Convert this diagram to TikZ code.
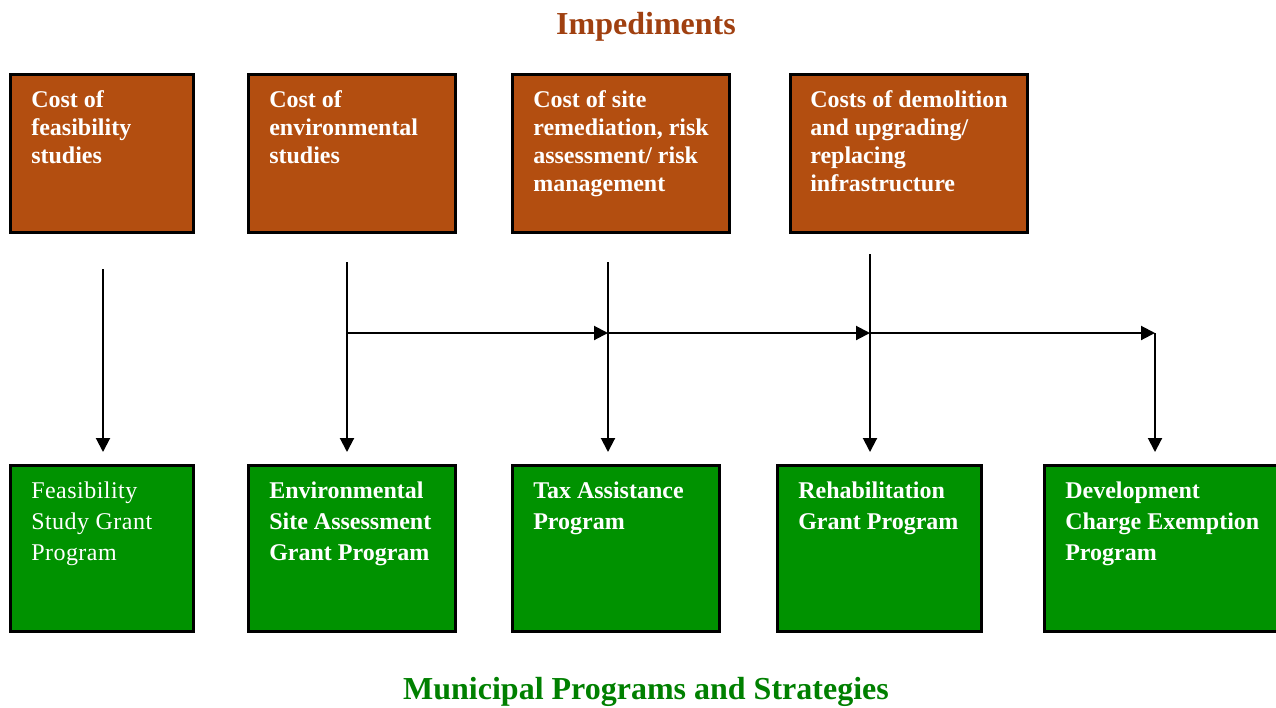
\documentclass[tikz,border=0pt]{standalone}
\usepackage{fontspec}
\setmainfont{Liberation Serif}
\newfontfamily\spacedfont[LetterSpace=2]{Liberation Serif}
\usetikzlibrary{positioning,arrows.meta}
\definecolor{impbrown}{RGB}{179,78,16}
\definecolor{imptitle}{RGB}{160,64,16}
\definecolor{proggreen}{RGB}{0,146,0}
\definecolor{progtitle}{RGB}{0,128,0}
\begin{document}
\begin{tikzpicture}[x=0.75pt, y=-0.75pt, >={Triangle[length=10.5pt,width=10.5pt]},
  box/.style={draw=black, line width=2pt, anchor=north west, minimum height=#1},
  imp/.style={box=118.75pt, fill=impbrown},
  prog/.style={box=124.75pt, fill=proggreen},
  txt/.style={anchor=north west, inner sep=0pt, text=white, align=left,
    font=\fontsize{18pt}{21pt}\selectfont\bfseries},
  ptxt/.style={txt, font=\fontsize{18pt}{23.25pt}\selectfont\bfseries},
  ttl/.style={anchor=base, font=\fontsize{24pt}{28pt}\selectfont\bfseries},
  link/.style={->, line width=1.5pt}]
  \useasboundingbox (0,0) rectangle (1276,707);
  % titles
  \node[ttl, text=imptitle] (ttop) at (646,34) {Impediments};
  \node[ttl, text=progtitle] (tbot) at (646,699) {Municipal Programs and Strategies};
  % impediments
  \node[imp, minimum width=137.5pt] (i1) at (9,73) {};
  \node[imp, minimum width=155.5pt] (i2) at (247,73) {};
  \node[imp, minimum width=163pt] (i3) at (511,73) {};
  \node[imp, minimum width=178pt] (i4) at (789,73) {};
  \node[txt] (i1t) at (31,90) {Cost of\\feasibility\\studies};
  \node[txt] (i2t) at (269,90) {Cost of\\environmental\\studies};
  \node[txt] (i3t) at (533,90) {Cost of site\\remediation, risk\\assessment/ risk\\management};
  \node[txt] (i4t) at (810,90) {Costs of demolition\\and upgrading/\\replacing\\infrastructure};
  % programs
  \node[prog, minimum width=137.5pt] (g1) at (9,464) {};
  \node[prog, minimum width=155.5pt] (g2) at (247,464) {};
  \node[prog, minimum width=155.5pt] (g3) at (511,464) {};
  \node[prog, minimum width=153.25pt] (g4) at (776,464) {};
  \node[prog, minimum width=178pt] (g5) at (1043,464) {};
  \node[ptxt, font=\fontsize{18pt}{23.25pt}\spacedfont] (g1t) at (31,482) {Feasibility\\Study Grant\\Program};
  \node[ptxt] (g2t) at (269,482) {Environmental\\Site Assessment\\Grant Program};
  \node[ptxt] (g3t) at (533,482) {Tax Assistance\\Program};
  \node[ptxt] (g4t) at (798,482) {Rehabilitation\\Grant Program};
  \node[ptxt] (g5t) at (1065,482) {Development\\Charge Exemption\\Program};
  % connectors
  \coordinate (a1) at (103,269);
  \coordinate (a2) at (347,262);
  \coordinate (a3) at (608,262);
  \coordinate (a4) at (870,254);
  \coordinate (j2) at (347,333);
  \coordinate (j3) at (608,333);
  \coordinate (j4) at (870,333);
  \coordinate (j5) at (1155,333);
  \draw[link, shorten >=9pt] (a1) -- (a1 |- g1.north);
  \draw[link, shorten >=9pt] (a2) -- (a2 |- g2.north);
  \draw[link, shorten >=9pt] (a3) -- (a3 |- g3.north);
  \draw[link, shorten >=9pt] (a4) -- (a4 |- g4.north);
  \draw[link, shorten >=9pt] (j5) -- (j5 |- g5.north);
  \draw[link] (j2) -- (j3);
  \draw[link] (j3) -- (j4);
  \draw[link] (j4) -- (j5);
\end{tikzpicture}
\end{document}
